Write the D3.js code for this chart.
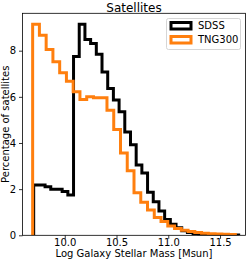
<!DOCTYPE html>
<html>
<head>
<meta charset="utf-8">
<script src="https://cdn.jsdelivr.net/npm/d3@7"></script>
<style>
  body { margin: 0; background: #fff; }
  svg { display: block; font-family: "DejaVu Sans", sans-serif; }
</style>
</head>
<body>
<div id="vis1"></div>
<script>
const FRAME_WIDTH = 249;
const FRAME_HEIGHT = 261;
const MARGINS = {left: 22.5, right: 3.5, top: 13.3, bottom: 25.7};

const VIS_WIDTH = FRAME_WIDTH - MARGINS.left - MARGINS.right;
const VIS_HEIGHT = FRAME_HEIGHT - MARGINS.top - MARGINS.bottom;

// data (percent per bin)
const SERIES = ["SDSS", "TNG300"];
const COLORS = ["#000000", "#ff7f0e"];

const SDSS_BIN_START = 9.70;
const SDSS_BIN_WIDTH = 0.055;
const SDSS_VALUES = [2.18, 2.18, 2.1, 2.0, 2.0, 1.9, 1.75, 7.75, 9.15, 8.48, 8.31, 7.85,
                     7.08, 6.36, 5.86, 5.35, 4.48, 3.92, 3.05, 2.7, 1.87, 1.45, 1.05, 0.68,
                     0.48, 0.33, 0.2, 0.12, 0.07, 0.04, 0.02, 0.01, 0.01, 0.0, 0.0, 0.01];

const TNG_BIN_START = 9.69;
const TNG_BIN_WIDTH = 0.06527;
const TNG_VALUES = [9.15, 8.67, 8.05, 7.52, 7.04, 6.68, 6.22, 5.89, 6.0, 5.96, 5.96, 5.42,
                    4.58, 3.57, 2.8, 1.84, 1.43, 1.1, 0.77, 0.6, 0.4, 0.3, 0.22, 0.16,
                    0.12, 0.09, 0.07, 0.06, 0.05, 0.03];

const X_TICKS = [10.0, 10.5, 11.0, 11.5];
const Y_TICKS = [0, 2, 4, 6, 8];
const X_DOMAIN = [9.592, 11.746];
const Y_DOMAIN = [0, 9.62];

const FRAME = d3.select("#vis1")
                .append("svg")
                  .attr("width", FRAME_WIDTH)
                  .attr("height", FRAME_HEIGHT);

const X_SCALE = d3.scaleLinear().domain(X_DOMAIN).range([0, VIS_WIDTH]);
const Y_SCALE = d3.scaleLinear().domain(Y_DOMAIN).range([VIS_HEIGHT, 0]);

const PLOT = FRAME.append("g")
  .attr("transform", "translate(" + MARGINS.left + "," + MARGINS.top + ")");

FRAME.append("defs").append("clipPath").attr("id", "clip")
  .append("rect").attr("width", VIS_WIDTH).attr("height", VIS_HEIGHT);

// step outline like matplotlib histtype="step"
function stepPoints(start, width, values) {
  const pts = [[start, 0]];
  values.forEach((v, i) => {
    pts.push([start + i * width, v]);
    pts.push([start + (i + 1) * width, v]);
  });
  pts.push([start + values.length * width, 0]);
  return pts;
}

const line = d3.line()
  .x(d => X_SCALE(d[0]))
  .y(d => Y_SCALE(d[1]));

const HISTS = [
  stepPoints(SDSS_BIN_START, SDSS_BIN_WIDTH, SDSS_VALUES),
  stepPoints(TNG_BIN_START, TNG_BIN_WIDTH, TNG_VALUES)
];

PLOT.append("g").attr("clip-path", "url(#clip)")
  .selectAll(".hist")
  .data(HISTS)
  .enter()
  .append("path")
    .attr("class", "hist")
    .attr("d", d => line(d))
    .attr("fill", "none")
    .attr("stroke", (d, i) => COLORS[i])
    .attr("stroke-width", 3)
    .attr("stroke-linejoin", "miter");

// axes
const xAxis = PLOT.append("g")
  .attr("transform", "translate(0," + VIS_HEIGHT + ")")
  .call(d3.axisBottom(X_SCALE).tickValues(X_TICKS).tickFormat(d3.format(".1f"))
        .tickSize(3.5).tickPadding(0.5).tickSizeOuter(0));

const yAxis = PLOT.append("g")
  .call(d3.axisLeft(Y_SCALE).tickValues(Y_TICKS).tickFormat(d3.format("d"))
        .tickSize(3.5).tickPadding(3).tickSizeOuter(0));

[xAxis, yAxis].forEach(ax => {
  ax.select(".domain").remove();
  ax.selectAll("line").attr("stroke", "#000").attr("stroke-width", 0.8);
  ax.selectAll("text").attr("font-size", "10px").attr("fill", "#000")
    .attr("font-family", "DejaVu Sans");
});

PLOT.append("rect")
  .attr("width", VIS_WIDTH)
  .attr("height", VIS_HEIGHT)
  .attr("fill", "none")
  .attr("stroke", "#000")
  .attr("stroke-width", 0.8);

// title and labels
FRAME.append("text")
  .attr("x", MARGINS.left + VIS_WIDTH / 2)
  .attr("y", 11.5)
  .attr("text-anchor", "middle")
  .attr("font-size", "12px")
  .text("Satellites");

FRAME.append("text")
  .attr("x", MARGINS.left + VIS_WIDTH / 2)
  .attr("y", 257)
  .attr("text-anchor", "middle")
  .attr("font-size", "10px")
  .text("Log Galaxy Stellar Mass [Msun]");

FRAME.append("text")
  .attr("transform", "translate(8.5," + (MARGINS.top + VIS_HEIGHT / 2) + ") rotate(-90)")
  .attr("text-anchor", "middle")
  .attr("font-size", "10px")
  .text("Percentage of satellites");

// legend
const LEGEND = FRAME.append("g").attr("transform", "translate(166.5,18.5)");

LEGEND.append("rect")
  .attr("width", 74)
  .attr("height", 31)
  .attr("rx", 2)
  .attr("fill", "#fff")
  .attr("fill-opacity", 0.8)
  .attr("stroke", "#cccccc")
  .attr("stroke-width", 0.8);

const ENTRY = LEGEND.selectAll(".entry")
  .data(SERIES)
  .enter()
  .append("g")
    .attr("class", "entry")
    .attr("transform", (d, i) => "translate(0," + (i * 14) + ")");

ENTRY.append("rect")
  .attr("x", 4.5)
  .attr("y", 4)
  .attr("width", 20)
  .attr("height", 6.5)
  .attr("fill", "none")
  .attr("stroke", (d, i) => COLORS[i])
  .attr("stroke-width", 3);

ENTRY.append("text")
  .attr("x", 31.5)
  .attr("y", 10.8)
  .attr("font-size", "10px")
  .text(d => d);
</script>
</body>
</html>
